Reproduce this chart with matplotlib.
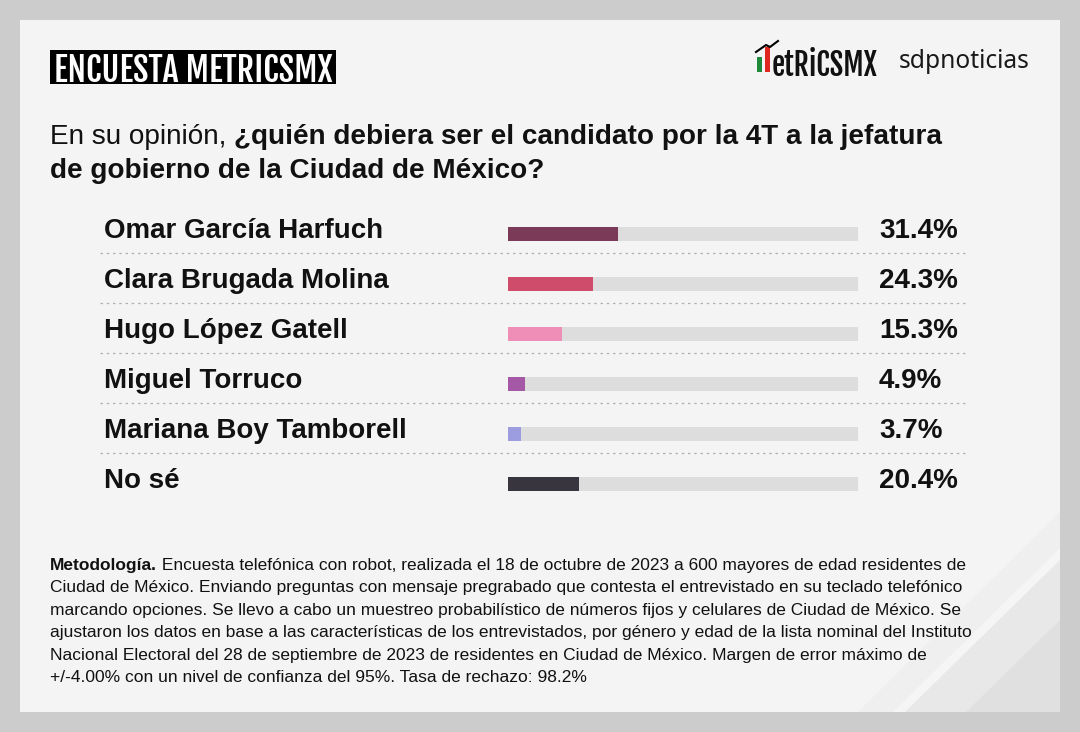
import matplotlib.pyplot as plt
import matplotlib.transforms as mtransforms
from matplotlib.patches import Rectangle, Polygon
from matplotlib import font_manager

# data
candidatos = ["Omar García Harfuch", "Clara Brugada Molina", "Hugo López Gatell",
              "Miguel Torruco", "Mariana Boy Tamborell", "No sé"]
porcentajes = [31.4, 24.3, 15.3, 4.9, 3.7, 20.4]
colores = ["#7b3b58", "#cf4c6a", "#ef8fb8", "#a558a6", "#9c9ce0", "#38353e"]

titulo = "ENCUESTA METRICSMX"
pregunta_1a = "En su opinión, "
pregunta_1b = "¿quién debiera ser el candidato por la 4T a la jefatura"
pregunta_2 = "de gobierno de la Ciudad de México?"
metodo_bold = "Metodología."
metodo_lineas = [
    " Encuesta telefónica con robot, realizada el 18 de octubre de 2023 a 600 mayores de edad residentes de",
    "Ciudad de México. Enviando preguntas con mensaje pregrabado que contesta el entrevistado en su teclado telefónico",
    "marcando opciones. Se llevo a cabo un muestreo probabilístico de números fijos y celulares de Ciudad de México. Se",
    "ajustaron los datos en base a las características de los entrevistados, por género y edad de la lista nominal del Instituto",
    "Nacional Electoral del 28 de septiembre de 2023 de residentes en Ciudad de México. Margen de error máximo de",
    "+/-4.00% con un nivel de confianza del 95%. Tasa de rechazo: 98.2%",
]

W, H = 1080, 732
plt.rcParams["font.family"] = ["Liberation Sans", "DejaVu Sans"]

nombres = {f.name for f in font_manager.fontManager.ttflist}
cond_font = next(c for c in ["Fjalla One", "Roboto Condensed", "Oswald", "DejaVu Sans"]
                 if c in nombres)


def fit_width(t, width_px, renderer):
    # shrink/grow a text until it spans width_px
    for _ in range(3):
        w = t.get_window_extent(renderer).width
        t.set_fontsize(t.get_fontsize() * width_px / w)


fig = plt.figure(figsize=(W / 100, H / 100), dpi=100)
fig.patch.set_facecolor("#cccccc")
renderer = fig.canvas.get_renderer()

bg = fig.add_axes([0, 0, 1, 1])
bg.set_xlim(0, W)
bg.set_ylim(H, 0)
bg.axis("off")

bg.add_patch(Rectangle((20, 20), 1040, 692, facecolor="#f4f4f4", edgecolor="none"))
bg.add_patch(Polygon([(1060, 512), (1060, 712), (858, 712)], closed=True,
                     facecolor="#efefef", edgecolor="none"))
bg.add_patch(Polygon([(1060, 548), (1060, 712), (893, 712)], closed=True,
                     facecolor="#f5f5f5", edgecolor="none"))
bg.add_patch(Polygon([(1060, 560), (1060, 712), (905, 712)], closed=True,
                     facecolor="#e8e8e8", edgecolor="none"))
bg.add_patch(Polygon([(1060, 620), (1060, 712), (966, 712)], closed=True,
                     facecolor="#e0e0e0", edgecolor="none"))

# header box
bg.add_patch(Rectangle((50, 50), 286, 34, facecolor="black", edgecolor="none"))
th = bg.text(54, 67, titulo, color="white", fontsize=22, va="center_baseline",
             ha="left", family=cond_font)
fit_width(th, 279, renderer)

# logos
bg.add_patch(Rectangle((757, 57), 5, 15, facecolor="#1f8a3a", edgecolor="none"))
bg.add_patch(Rectangle((765, 47), 5, 25, facecolor="#e0261f", edgecolor="none"))
bg.plot([756, 766, 770, 778], [52, 45, 47, 41], color="black", lw=1.5)
tl = bg.text(772, 63, "etRiCSMX", fontsize=16, va="center_baseline",
             ha="left", family=cond_font, color="#111111")
fit_width(tl, 106, renderer)
ts = bg.text(899, 61, "sdpnoticias", fontsize=17, fontweight="bold", va="center",
             ha="left", family=["Noto Sans", "DejaVu Sans"], color="#1a1a1a")
fit_width(ts, 131, renderer)

# question
t1 = bg.text(50, 144, pregunta_1a, fontsize=20.1, va="baseline", ha="left", color="#111111")
bg.annotate(pregunta_1b, xy=(1, 0), xycoords=t1, va="bottom", ha="left",
            fontsize=20.1, fontweight="bold", color="#111111")
bg.text(50, 178, pregunta_2, fontsize=20.1, fontweight="bold", va="baseline",
        ha="left", color="#111111")

# bar axes
n = len(candidatos)
x0, x1 = 508, 858
y_top = 234 - 25
ax = fig.add_axes([x0 / W, 1 - (y_top + 50 * n) / H, (x1 - x0) / W, 50 * n / H])
ax.set_xlim(0, 100)
ax.set_ylim(n - 0.5, -0.5)
ax.axis("off")
ax.patch.set_alpha(0)

ys = list(range(n))
ax.barh(ys, [100] * n, height=0.28, color="#dddddd", edgecolor="none")
ax.barh(ys, porcentajes, height=0.28, color=colores, edgecolor="none")

lab_tr = mtransforms.blended_transform_factory(bg.transData, ax.transData)
for i, (nombre, val) in enumerate(zip(candidatos, porcentajes)):
    ax.text(104, i - 0.07, nombre, transform=lab_tr, fontsize=20, fontweight="bold",
            va="center", ha="left", color="#111111", clip_on=False)
    ax.text(879, i - 0.07, f"{val:.1f}%", transform=lab_tr, fontsize=20,
            fontweight="bold", va="center", ha="left", color="#111111", clip_on=False)
    if i < n - 1:
        ax.plot([100, 968], [i + 0.37, i + 0.37], transform=lab_tr, color="#b0b0b0",
                lw=0.9, ls=(0, (2, 3)), clip_on=False)

# methodology
y0 = 570
m = bg.text(50, y0, metodo_bold, fontsize=12.5, fontweight="bold", va="baseline",
            ha="left", color="#111111")
bg.annotate(metodo_lineas[0], xy=(1, 0), xycoords=m, va="bottom", ha="left",
            fontsize=12.5, color="#111111")
for k, linea in enumerate(metodo_lineas[1:], start=1):
    bg.text(50, y0 + 22.4 * k, linea, fontsize=12.5, va="baseline", ha="left",
            color="#111111")

fig.savefig("out.png", dpi=100, facecolor=fig.get_facecolor())
